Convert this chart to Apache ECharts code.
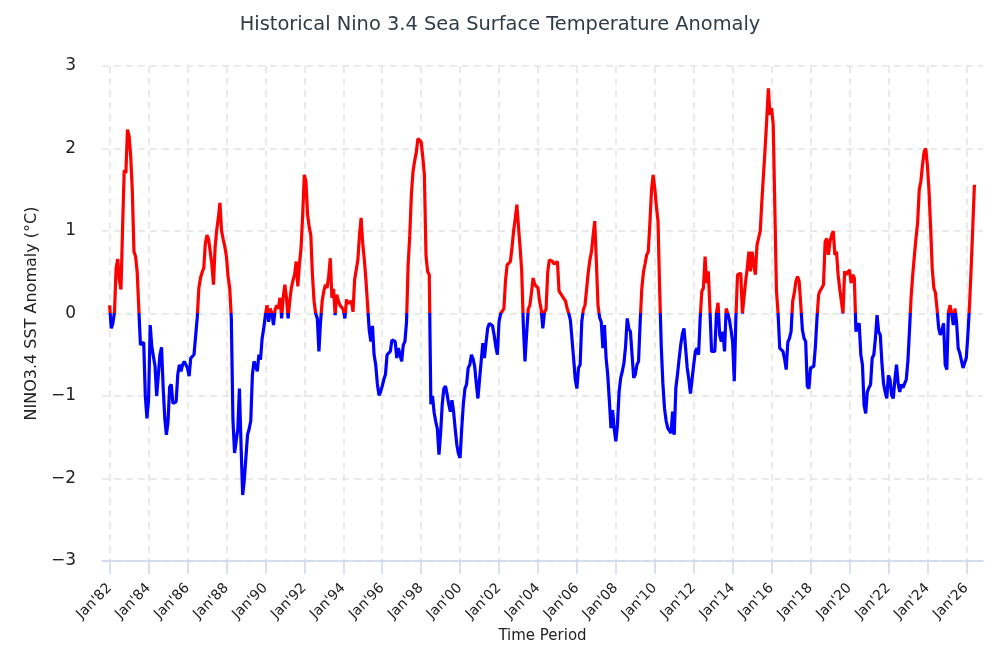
<!DOCTYPE html>
<html>
<head>
<meta charset="utf-8">
<script src="https://cdn.jsdelivr.net/npm/echarts@6/dist/echarts.min.js"></script>
<style>
html,body{margin:0;padding:0;background:#ffffff;}
#chart{width:1000px;height:667px;}
</style>
</head>
<body>
<div id="chart"></div>
<script>
// Monthly Nino 3.4 SST anomaly (°C), starting Jan 1982
const startYear = 1982;
const vals1980s = [
  0.10, -0.18, -0.12, 0.02, 0.55, 0.66, 0.40, 0.29, 1.05, 1.74, 1.70, 2.23,
  2.15, 1.90, 1.48, 0.75, 0.69, 0.50, 0.05, -0.38, -0.40, -0.35, -1.00, -1.27,
  -1.05, -0.14, -0.40, -0.52, -0.64, -1.00, -0.75, -0.50, -0.41, -0.90, -1.27, -1.47,
  -1.31, -0.89, -0.86, -1.09, -1.08, -1.07, -0.74, -0.62, -0.70, -0.62, -0.58, -0.56,
  -0.66, -0.76, -0.54, -0.52, -0.50, -0.50, -0.05, 0.31, 0.43, 0.50, 0.55, 0.85,
  0.95, 0.90, 0.91, 0.60, 0.35, 0.80, 1.01, 1.16, 1.34, 1.00, 0.90, 0.81,
  0.69, 0.45, 0.31, -0.05, -1.29, -1.69, -1.71, -1.40, -0.91, -1.60, -2.20, -2.02,
  -2.00, -1.47, -1.40, -1.30, -0.74, -0.58, -0.56, -0.70, -0.50, -0.56, -0.30, -0.18
];
const vals1990s = [
  -0.02, 0.10, -0.10, 0.06, 0.00, -0.14, 0.05, 0.10, 0.06, 0.19, -0.06, 0.20,
  0.35, 0.19, -0.06, 0.15, 0.31, 0.40, 0.47, 0.63, 0.33, 0.60, 0.80, 1.20,
  1.68, 1.60, 1.20, 1.05, 0.95, 0.47, 0.15, 0.00, -0.06, -0.46, -0.10, 0.15,
  0.27, 0.35, 0.31, 0.45, 0.67, 0.19, 0.30, -0.02, 0.23, 0.15, 0.10, 0.08,
  0.05, -0.06, 0.17, 0.12, 0.13, 0.15, 0.02, 0.41, 0.43, 0.65, 0.95, 1.16,
  0.85, 0.65, 0.40, 0.10, -0.20, -0.34, -0.15, -0.50, -0.62, -0.85, -0.99, -0.95,
  -0.88, -0.80, -0.74, -0.50, -0.48, -0.46, -0.32, -0.30, -0.34, -0.54, -0.42, -0.50,
  -0.58, -0.38, -0.34, -0.10, 0.60, 0.95, 1.45, 1.72, 1.85, 1.95, 2.12, 2.13,
  2.08, 1.90, 1.68, 0.70, 0.51, 0.47, -1.10, -1.00, -1.20, -1.31, -1.40, -1.71,
  -1.45, -1.10, -0.91, -0.88, -0.98, -1.10, -1.19, -1.05, -1.19, -1.40, -1.59, -1.70
];
const vals2000s = [
  -1.75, -1.40, -1.10, -0.91, -0.86, -0.66, -0.62, -0.50, -0.55, -0.64, -0.85, -1.03,
  -0.80, -0.58, -0.36, -0.54, -0.35, -0.18, -0.12, -0.10, -0.15, -0.26, -0.40, -0.50,
  -0.10, 0.00, 0.03, 0.06, 0.40, 0.59, 0.60, 0.63, 0.80, 1.00, 1.15, 1.32,
  1.05, 0.80, 0.51, -0.15, -0.58, -0.25, 0.05, 0.10, 0.25, 0.43, 0.35, 0.33,
  0.31, 0.15, 0.05, -0.18, 0.02, 0.05, 0.50, 0.65, 0.67, 0.63, 0.60, 0.59,
  0.63, 0.27, 0.29, 0.21, 0.23, 0.15, 0.06, 0.00, -0.08, -0.06, -0.55, -0.80,
  -0.91, -0.66, -0.62, -0.10, 0.05, 0.10, 0.10, 0.50, 0.65, 0.75, 0.95, 1.12,
  0.63, 0.10, -0.05, -0.10, -0.42, -0.14, -0.54, -0.74, -1.05, -1.39, -1.17, -1.40,
  -1.55, -1.35, -0.95, -0.78, -0.70, -0.60, -0.40, -0.06, -0.18, -0.22, -0.50, -0.78,
  -0.74, -0.62, -0.58, -0.10, 0.30, 0.50, 0.60, 0.71, 0.75, 1.10, 1.50, 1.68
];
const vals2010s = [
  1.52, 1.30, 1.12, 0.30, -0.40, -0.85, -1.15, -1.30, -1.39, -1.42, -1.45, -1.19,
  -1.47, -0.90, -0.74, -0.55, -0.38, -0.25, -0.18, -0.42, -0.66, -0.80, -0.97, -0.99,
  -0.62, -0.46, -0.42, -0.50, -0.05, 0.27, 0.31, 0.69, 0.37, 0.51, 0.05, -0.46,
  -0.46, -0.46, 0.00, 0.13, -0.26, -0.34, -0.22, -0.46, 0.06, 0.00, -0.08, -0.20,
  -0.35, -0.82, -0.05, 0.47, 0.45, 0.49, 0.00, 0.00, 0.39, 0.55, 0.75, 0.51,
  0.75, 0.60, 0.47, 0.83, 0.83, 1.00, 1.36, 1.68, 2.00, 2.35, 2.73, 2.41,
  2.49, 2.29, 1.28, 0.27, 0.00, -0.42, -0.44, -0.46, -0.55, -0.68, -0.35, -0.30,
  -0.22, 0.15, 0.25, 0.39, 0.45, 0.39, 0.10, -0.20, -0.30, -0.34, -0.88, -0.91,
  -0.66, -0.65, -0.64, -0.40, -0.05, 0.23, 0.28, 0.31, 0.35, 0.87, 0.91, 0.71,
  0.87, 0.95, 1.00, 0.71, 0.75, 0.47, 0.30, 0.15, 0.00, 0.51, 0.47, 0.50
];
const vals2020s = [
  0.53, 0.37, 0.47, 0.43, -0.22, -0.15, -0.12, -0.50, -0.62, -1.11, -1.21, -0.95,
  -0.90, -0.86, -0.54, -0.50, -0.30, -0.02, -0.22, -0.26, -0.60, -0.85, -0.95, -1.03,
  -0.75, -0.80, -0.99, -1.03, -0.80, -0.62, -0.85, -0.95, -0.86, -0.90, -0.85, -0.80,
  -0.58, -0.20, 0.20, 0.47, 0.70, 0.91, 1.10, 1.50, 1.60, 1.80, 1.96, 2.00,
  1.80, 1.50, 1.05, 0.55, 0.31, 0.25, 0.05, -0.18, -0.26, -0.20, -0.12, -0.62,
  -0.68, 0.02, 0.10, 0.00, -0.14, 0.06, -0.10, -0.42, -0.48, -0.50, -0.66, -0.60,
  -0.54, -0.25, 0.10, 0.55, 1.05, 1.56
];

// x-axis tick positions (month index from Jan 1982) and their labels
const tickMonths = [0, 24, 48, 72, 96, 120, 144, 168, 192, 216, 240, 264,
  288, 312, 336, 360, 384, 408, 432, 456, 480, 504, 528];
const tickLabels = ["Jan'82", "Jan'84", "Jan'86", "Jan'88", "Jan'90", "Jan'92",
  "Jan'94", "Jan'96", "Jan'98", "Jan'00", "Jan'02", "Jan'04", "Jan'06", "Jan'08",
  "Jan'10", "Jan'12", "Jan'14", "Jan'16", "Jan'18", "Jan'20", "Jan'22", "Jan'24", "Jan'26"];
const yTicks = [-3, -2, -1, 0, 1, 2, 3];

const values = [].concat(vals1980s, vals1990s, vals2000s, vals2010s, vals2020s);
const seriesData = values.map((v, i) => [i, v]);

const chart = echarts.init(document.getElementById('chart'), null, {renderer: 'canvas'});
const font = 'DejaVu Sans';
const gridColor = '#e3e3e3';

chart.setOption({
  animation: false,
  backgroundColor: '#ffffff',
  textStyle: {fontFamily: font},
  title: {
    text: 'Historical Nino 3.4 Sea Surface Temperature Anomaly',
    left: 'center',
    top: 10,
    textStyle: {fontFamily: font, fontSize: 19.4, fontWeight: 'normal', color: '#2f3b45'}
  },
  grid: {left: 102, right: 17, top: 66, bottom: 106, containLabel: false},
  xAxis: {
    type: 'value',
    min: -4.7,
    max: 538.3,
    name: 'Time Period',
    nameLocation: 'middle',
    nameGap: 66,
    nameTextStyle: {fontFamily: font, fontSize: 15, color: '#222222'},
    axisLine: {show: true, onZero: false, lineStyle: {color: '#ccd6eb', width: 1.5}},
    axisTick: {show: true, customValues: tickMonths, length: 13, lineStyle: {color: '#ccd6eb', width: 1.5}},
    axisLabel: {
      customValues: tickMonths,
      rotate: 45,
      margin: 25,
      fontSize: 14,
      color: '#222222',
      fontFamily: font,
      formatter: function (v) {
        const i = tickMonths.indexOf(Math.round(v));
        return i >= 0 ? tickLabels[i] : '';
      }
    },
    splitLine: {show: true, lineStyle: {color: gridColor, width: 1.5, type: [7, 5]}}
  },
  yAxis: {
    type: 'value',
    min: yTicks[0],
    max: yTicks[yTicks.length - 1],
    interval: 1,
    name: 'NINO3.4 SST Anomaly (°C)',
    nameLocation: 'middle',
    nameGap: 56,
    nameTextStyle: {fontFamily: font, fontSize: 16, color: '#222222'},
    axisLine: {show: false},
    axisTick: {show: false},
    axisLabel: {
      margin: 26,
      fontSize: 17,
      color: '#222222',
      fontFamily: font,
      formatter: function (v) { return v < 0 ? '\u2212' + Math.abs(v) : String(v); }
    },
    splitLine: {show: true, lineStyle: {color: gridColor, width: 1.5, type: [7, 5]}}
  },
  visualMap: {
    show: false,
    type: 'piecewise',
    dimension: 1,
    seriesIndex: 0,
    pieces: [
      {gte: -5, lt: 0, color: '#0000ff'},
      {gte: 0, lte: 5, color: '#ff0000'}
    ],
    outOfRange: {color: '#ff0000'}
  },
  series: [{
    type: 'line',
    data: seriesData,
    showSymbol: false,
    symbol: 'none',
    smooth: false,
    lineStyle: {width: 3.2},
    z: 3
  }]
});
</script>
</body>
</html>
